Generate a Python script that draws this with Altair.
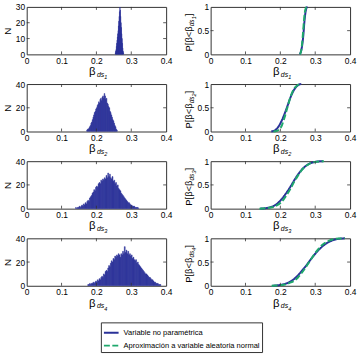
import altair as alt
import pandas as pd

BLUE = "#2a3198"
GREEN = "#1ea86c"
FRAME = "#333333"
FONT = "Liberation Sans"
W, H = 141, 48

# Histogram counts (bin start, bin width, counts)
hist_start = [0.254, 0.172, 0.140, 0.175]
hist_step = [0.001, 0.002, 0.0025, 0.0025]
hist1 = [1, 2, 3, 5, 7, 9, 11, 13, 15, 18, 21, 24, 27, 31, 28, 24, 20, 17, 13, 10, 7, 4, 2, 1]
hist2 = [1, 2, 2, 3, 4, 5, 7, 8, 10, 12, 14, 16, 17, 19, 20, 22, 23, 25, 24, 27,
         28, 26, 29, 30, 28, 32, 30, 27, 28, 24, 23, 21, 20, 17, 16, 14, 12, 10, 9, 7,
         5, 4, 2, 1]
hist3 = [1, 0, 1, 1, 2, 1, 2, 3, 2, 4, 3, 5, 4, 6, 7, 6, 9, 10, 11, 13,
         14, 16, 15, 18, 19, 18, 21, 22, 21, 24, 23, 25, 24, 26, 25, 28, 26, 30, 27, 29,
         26, 25, 27, 23, 24, 21, 22, 19, 20, 17, 16, 15, 13, 12, 11, 10, 9, 8, 7, 6,
         5, 5, 4, 3, 3, 2, 2, 2, 1, 1, 1, 1, 0]
hist4 = [1, 1, 2, 1, 2, 2, 3, 2, 3, 4, 3, 5, 4, 6, 5, 7, 8, 7, 10, 9,
         12, 13, 12, 15, 17, 16, 19, 21, 20, 23, 22, 25, 24, 26, 25, 27, 26, 24, 27, 26,
         29, 27, 33, 28, 30, 27, 29, 26, 27, 25, 26, 23, 24, 22, 21, 22, 19, 20, 18, 17,
         16, 15, 14, 13, 12, 11, 10, 10, 9, 8, 7, 7, 6, 5, 5, 4, 3, 3, 2, 2,
         2, 1, 1, 1]
hist_counts = [hist1, hist2, hist3, hist4]

# Normal-approximation CDF points
norm_x = [
    [0.256, 0.258, 0.260, 0.262, 0.264, 0.266, 0.268, 0.270, 0.272, 0.274, 0.276],
    [0.180, 0.190, 0.200, 0.205, 0.210, 0.215, 0.220, 0.225, 0.230, 0.235, 0.240, 0.245, 0.250, 0.258],
    [0.140, 0.160, 0.180, 0.190, 0.200, 0.210, 0.220, 0.230, 0.240, 0.250, 0.260, 0.270, 0.280, 0.290, 0.300, 0.310, 0.325],
    [0.175, 0.190, 0.200, 0.210, 0.220, 0.230, 0.240, 0.250, 0.260, 0.270, 0.280, 0.290, 0.300, 0.310, 0.320, 0.330, 0.340, 0.350, 0.360, 0.370, 0.385],
]
norm_p = [
    [0.0, 0.03, 0.09, 0.20, 0.36, 0.55, 0.73, 0.87, 0.95, 0.985, 1.0],
    [0.0, 0.015, 0.07, 0.14, 0.25, 0.37, 0.50, 0.63, 0.75, 0.84, 0.91, 0.95, 0.98, 1.0],
    [0.0, 0.01, 0.035, 0.07, 0.12, 0.20, 0.31, 0.43, 0.57, 0.69, 0.80, 0.88, 0.93, 0.97, 0.985, 0.995, 1.0],
    [0.0, 0.005, 0.01, 0.02, 0.04, 0.07, 0.11, 0.17, 0.26, 0.36, 0.47, 0.58, 0.69, 0.78, 0.86, 0.91, 0.95, 0.975, 0.99, 0.995, 1.0],
]

hist_ymax = [30, 40, 40, 40]
hist_yticks = [[0, 10, 20, 30], [0, 20, 40], [0, 20, 40], [0, 20, 40]]
x_ticks = [0, 0.1, 0.2, 0.3, 0.4]
cdf_ticks = [0, 0.5, 1]
subs = ["1", "2", "3", "4"]
LEG = ["Variable no paramétrica", "Aproximación a variable aleatoria normal"]

xscale = alt.Scale(domain=[0, 0.4], nice=False, zero=False)
LABEL = "'' + datum.value"


def axis(values, title=None):
    return alt.Axis(values=values, labelExpr=LABEL, title=title,
                    labelOverlap=False, labelFlush=False, labelBound=False)


def text_layer(s, x, y, size, italic=False, angle=0):
    return alt.Chart(pd.DataFrame({"t": [s]})).mark_text(
        font=FONT, fontSize=size, fontStyle="italic" if italic else "normal",
        align="left", baseline="alphabetic", angle=angle, color="black"
    ).encode(text="t:N", x=alt.value(x), y=alt.value(y))


def xtitle_layers(sub):
    return [
        text_layer("β", 63, H + 21, 11.5),
        text_layer("ds", 71, H + 22.5, 7, italic=True),
        text_layer(sub, 78.5, H + 25, 5.5, italic=True),
    ]


def inner_ticks(xvals, yvals, yscale, yaxis):
    tx = pd.DataFrame({"v": xvals})
    ty = pd.DataFrame({"v": yvals})
    rx = alt.Chart(tx).mark_rule(color=FRAME, strokeWidth=0.8)
    ry = alt.Chart(ty).mark_rule(color=FRAME, strokeWidth=0.8)
    return [
        rx.encode(x=alt.X("v:Q", scale=xscale, axis=axis(x_ticks)), y=alt.value(H), y2=alt.value(H - 3)),
        rx.encode(x=alt.X("v:Q", scale=xscale, axis=axis(x_ticks)), y=alt.value(0), y2=alt.value(3)),
        ry.encode(y=alt.Y("v:Q", scale=yscale, axis=yaxis), x=alt.value(0), x2=alt.value(3)),
        ry.encode(y=alt.Y("v:Q", scale=yscale, axis=yaxis), x=alt.value(W), x2=alt.value(W - 3)),
    ]


color_enc_scale = alt.Scale(domain=LEG, range=[BLUE, GREEN])
dash_scale = alt.Scale(domain=LEG, range=[[1, 0], [6, 2.5]])
legend = alt.Legend(
    title=None, orient="none", legendX=75, legendY=319, direction="vertical",
    symbolType="stroke", symbolSize=220, symbolStrokeWidth=2,
    labelFont=FONT, labelFontSize=7.6, labelColor="black",
    strokeColor=FRAME, fillColor="white", padding=2, rowPadding=0,
)

panels = []
for i in range(4):
    counts = hist_counts[i]
    start, step = hist_start[i], hist_step[i]
    df = pd.DataFrame({
        "x0": [start + k * step for k in range(len(counts))],
        "n": counts,
    })
    df["x1"] = df["x0"] + step

    yscale_h = alt.Scale(domain=[0, hist_ymax[i]], nice=False)
    yaxis_h = axis(hist_yticks[i], "N")
    bars = alt.Chart(df).mark_rect(color=BLUE, stroke=BLUE, strokeWidth=0.5, clip=True).encode(
        x=alt.X("x0:Q", scale=xscale, axis=axis(x_ticks)),
        x2="x1:Q",
        y=alt.Y("n:Q", scale=yscale_h, axis=yaxis_h),
        y2=alt.datum(0),
    )
    left = alt.layer(
        bars,
        *inner_ticks([0.1, 0.2, 0.3], hist_yticks[i][1:-1], yscale_h, yaxis_h),
        *xtitle_layers(subs[i]),
    ).properties(width=W, height=H)

    yscale_c = alt.Scale(domain=[0, 1], nice=False)
    yaxis_c = axis(cdf_ticks)
    blue = alt.Chart(df).transform_window(
        cum="sum(n)", sort=[{"field": "x0"}]
    ).transform_joinaggregate(tot="sum(n)").transform_calculate(
        p="datum.cum / datum.tot", s="'" + LEG[0] + "'"
    ).mark_line(strokeWidth=2).encode(
        x=alt.X("x1:Q", scale=xscale, axis=axis(x_ticks)),
        y=alt.Y("p:Q", scale=yscale_c, axis=yaxis_c),
        color=alt.Color("s:N", scale=color_enc_scale, legend=legend),
        strokeDash=alt.StrokeDash("s:N", scale=dash_scale, legend=legend),
    )
    gdf = pd.DataFrame({"x1": norm_x[i], "p": norm_p[i], "s": LEG[1]})
    green = alt.Chart(gdf).mark_line(strokeWidth=2, interpolate="monotone").encode(
        x=alt.X("x1:Q", scale=xscale, axis=axis(x_ticks)),
        y=alt.Y("p:Q", scale=yscale_c, axis=yaxis_c),
        color=alt.Color("s:N", scale=color_enc_scale, legend=legend),
        strokeDash=alt.StrokeDash("s:N", scale=dash_scale, legend=legend),
    )
    ty = [
        text_layer("P[β<β", -19, H - 3, 9.5, angle=270),
        text_layer("ds", -16.5, H - 3 - 25.5, 6.5, italic=True, angle=270),
        text_layer(subs[i], -14.5, H - 3 - 32.5, 5.5, italic=True, angle=270),
        text_layer("]", -19, H - 3 - 35.5, 9.5, angle=270),
    ]
    right = alt.layer(
        blue, green,
        *inner_ticks([0.1, 0.2, 0.3], [0.5], yscale_c, yaxis_c),
        *xtitle_layers(subs[i]),
        *ty,
    ).properties(width=W, height=H)

    panels += [left, right]

chart = alt.concat(
    *panels, columns=2, spacing={"row": 30, "column": 45}, bounds="flush"
).properties(
    padding={"left": 2, "top": 0, "right": 0, "bottom": 0}
).configure_view(
    stroke=FRAME, strokeWidth=1
).configure_axis(
    domain=False, ticks=False, grid=False, labelOverlap=False,
    labelFont=FONT, labelFontSize=8.5, labelColor="black", labelPadding=2,
    titleFont=FONT, titleFontSize=10, titleFontWeight="normal", titleColor="black",
    titlePadding=3,
)

chart.save("out.html", embed_options={"renderer": "svg", "actions": False})
